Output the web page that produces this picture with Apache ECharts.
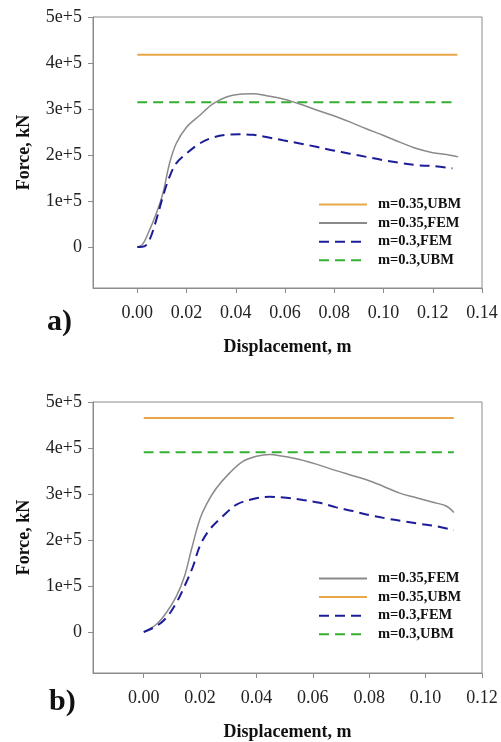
<!DOCTYPE html>
<html>
<head>
<meta charset="utf-8">
<script src="https://cdn.jsdelivr.net/npm/echarts@6/dist/echarts.min.js"></script>
<style>
html,body{margin:0;padding:0;background:#fff;}
#c{width:501px;height:742px;}
</style>
</head>
<body>
<div id="c"></div>
<script>
// ---------- data ----------
// Panel a)
const aDispFEM35 = [0, 0.002, 0.004, 0.0077, 0.0104, 0.0131, 0.0158, 0.0199, 0.0253, 0.0307, 0.0362, 0.0416, 0.047, 0.0524, 0.0592, 0.066, 0.0727, 0.0795, 0.0863, 0.093, 0.0998, 0.1066, 0.1134, 0.12, 0.1256, 0.1303];
const aForceFEM35 = [0, 5000, 25000, 73000, 117000, 182000, 225000, 260000, 286000, 311000, 326000, 332000, 333000, 329000, 322000, 311000, 298000, 286000, 272000, 257000, 243000, 228000, 214000, 205000, 201000, 196000];
const aDispFEM30 = [0, 0.003, 0.005, 0.0077, 0.0104, 0.0131, 0.0158, 0.0199, 0.0253, 0.0307, 0.0362, 0.0416, 0.047, 0.0524, 0.0592, 0.066, 0.0727, 0.0795, 0.0863, 0.093, 0.0998, 0.1066, 0.1134, 0.12, 0.128];
const aForceFEM30 = [0, 2000, 16000, 59000, 110000, 153000, 182000, 203000, 225000, 238000, 244000, 245000, 244000, 239000, 232000, 225000, 218000, 210000, 203000, 196000, 189000, 183000, 178000, 176000, 171000];
const aDispUBM = [0, 0.13];
const aForceUBM35 = [418000, 418000];
const aForceUBM30 = [314500, 314500];

// Panel b)
const bDispFEM35 = [0, 0.0045, 0.008, 0.0116, 0.0145, 0.0169, 0.0199, 0.0222, 0.0258, 0.0305, 0.0352, 0.04, 0.0447, 0.0494, 0.0553, 0.0612, 0.0671, 0.073, 0.079, 0.0849, 0.0908, 0.0967, 0.1026, 0.1073, 0.11];
const bForceFEM35 = [0, 17000, 42000, 78000, 122000, 179000, 245000, 277000, 313000, 346000, 371000, 382000, 386000, 382000, 375000, 365000, 353000, 342000, 331000, 317000, 302000, 292000, 282000, 274000, 260000];
const bDispFEM30 = [0, 0.0045, 0.008, 0.0116, 0.0145, 0.0175, 0.0199, 0.0234, 0.0281, 0.0329, 0.0388, 0.0447, 0.0506, 0.0565, 0.0624, 0.0683, 0.0742, 0.0801, 0.086, 0.092, 0.0979, 0.1038, 0.11];
const bForceFEM30 = [0, 13000, 31000, 64000, 100000, 143000, 187000, 223000, 252000, 277000, 289000, 294000, 292000, 287000, 281000, 271000, 263000, 254000, 247000, 241000, 235000, 230000, 221000];
const bDispUBM = [0, 0.11];
const bForceUBM35 = [465000, 465000];
const bForceUBM30 = [391000, 391000];

// Ticks
const yTickValues = [0, 100000, 200000, 300000, 400000, 500000];
const yTickLabels = ['0', '1e+5', '2e+5', '3e+5', '4e+5', '5e+5'];
const xTickValuesA = [0, 0.02, 0.04, 0.06, 0.08, 0.10, 0.12, 0.14];
const xTickLabelsA = ['0.00', '0.02', '0.04', '0.06', '0.08', '0.10', '0.12', '0.14'];
const xTickValuesB = [0, 0.02, 0.04, 0.06, 0.08, 0.10, 0.12];
const xTickLabelsB = ['0.00', '0.02', '0.04', '0.06', '0.08', '0.10', '0.12'];

const names = {
  ubm35: 'm=0.35,UBM',
  fem35: 'm=0.35,FEM',
  fem30: 'm=0.3,FEM',
  ubm30: 'm=0.3,UBM'
};

// ---------- helpers ----------
const zip = (xs, ys) => xs.map((x, i) => [x, ys[i]]);
const FONT = "'Liberation Serif', 'Times New Roman', serif";
const axisGray = '#8c8c8c';
const C = { orange: '#E8A848', gray: '#8a8a8a', blue: '#1c1c98', green: '#33b033' };

function lookup(vals, labels) {
  return function (v) {
    for (let i = 0; i < vals.length; i++) {
      if (Math.abs(vals[i] - v) < 1e-9 * Math.max(1, Math.abs(v))) return labels[i];
    }
    return '';
  };
}

function xAxis(gridIndex, max, vals, labels) {
  return {
    type: 'value', gridIndex, min: -0.018, max,
    name: 'Displacement, m', nameLocation: 'middle', nameGap: 50,
    nameTextStyle: { fontFamily: FONT, fontWeight: 'bold', fontSize: 18, color: '#111' },
    axisLine: { show: true, onZero: false, lineStyle: { color: axisGray, width: 1 } },
    axisTick: { show: true, length: 5, customValues: vals, lineStyle: { color: axisGray } },
    axisLabel: { customValues: vals, formatter: lookup(vals, labels), margin: 16, fontFamily: FONT, fontSize: 18, color: '#222' },
    splitLine: { show: false }
  };
}
function yAxis(gridIndex) {
  return {
    type: 'value', gridIndex, min: -89000, max: 500000,
    name: 'Force, kN', nameLocation: 'middle', nameGap: 60,
    nameTextStyle: { fontFamily: FONT, fontWeight: 'bold', fontSize: 18, color: '#111' },
    axisLine: { show: true, onZero: false, lineStyle: { color: axisGray, width: 1 } },
    axisTick: { show: true, length: 5, customValues: yTickValues, lineStyle: { color: axisGray } },
    axisLabel: { customValues: yTickValues, formatter: lookup(yTickValues, yTickLabels), margin: 11, fontFamily: FONT, fontSize: 18, color: '#222' },
    splitLine: { show: false }
  };
}
function line(name, data, xi, color, width, dashed) {
  return {
    type: 'line', name, data, xAxisIndex: xi, yAxisIndex: xi,
    symbol: 'none', smooth: 0.35, silent: true, animation: false,
    lineStyle: { color, width, type: dashed ? [10, 6] : 'solid' },
    itemStyle: { color }
  };
}

const legendText = { fontFamily: FONT, fontWeight: 'bold', fontSize: 14.5, color: '#111', padding: [0, 0, 0, 6] };
const legendBase = {
  orient: 'vertical', left: 318, padding: 0, itemWidth: 48, itemHeight: 12, itemGap: 3.6,
  textStyle: legendText, selectedMode: false, itemStyle: { opacity: 0 }
};

const option = {
  animation: false,
  backgroundColor: '#fff',
  grid: [
    { left: 93, top: 17, width: 389, height: 271, show: true, borderColor: axisGray, borderWidth: 1, backgroundColor: 'transparent' },
    { left: 93, top: 402, width: 389, height: 272, show: true, borderColor: axisGray, borderWidth: 1, backgroundColor: 'transparent' }
  ],
  xAxis: [xAxis(0, 0.14, xTickValuesA, xTickLabelsA), xAxis(1, 0.12, xTickValuesB, xTickLabelsB)],
  yAxis: [yAxis(0), yAxis(1)],
  legend: [
    Object.assign({}, legendBase, { top: 197, data: [names.ubm35, names.fem35, names.fem30, names.ubm30] }),
    Object.assign({}, legendBase, { top: 571, data: [names.fem35, names.ubm35, names.fem30, names.ubm30] })
  ],
  graphic: [
    { type: 'text', left: 47, top: 307, style: { text: 'a)', font: "bold 30px 'Liberation Serif', serif", fill: '#111' } },
    { type: 'text', left: 49, top: 687, style: { text: 'b)', font: "bold 30px 'Liberation Serif', serif", fill: '#111' } }
  ],
  series: [
    line(names.ubm35, zip(aDispUBM, aForceUBM35), 0, C.orange, 2, false),
    line(names.ubm30, zip(aDispUBM, aForceUBM30), 0, C.green, 2, true),
    line(names.fem35, zip(aDispFEM35, aForceFEM35), 0, C.gray, 1.5, false),
    line(names.fem30, zip(aDispFEM30, aForceFEM30), 0, C.blue, 2, true),
    line(names.ubm35, zip(bDispUBM, bForceUBM35), 1, C.orange, 2, false),
    line(names.ubm30, zip(bDispUBM, bForceUBM30), 1, C.green, 2, true),
    line(names.fem35, zip(bDispFEM35, bForceFEM35), 1, C.gray, 1.5, false),
    line(names.fem30, zip(bDispFEM30, bForceFEM30), 1, C.blue, 2, true)
  ]
};

const chart = echarts.init(document.getElementById('c'), null, { renderer: 'canvas' });
chart.setOption(option);
</script>
</body>
</html>
